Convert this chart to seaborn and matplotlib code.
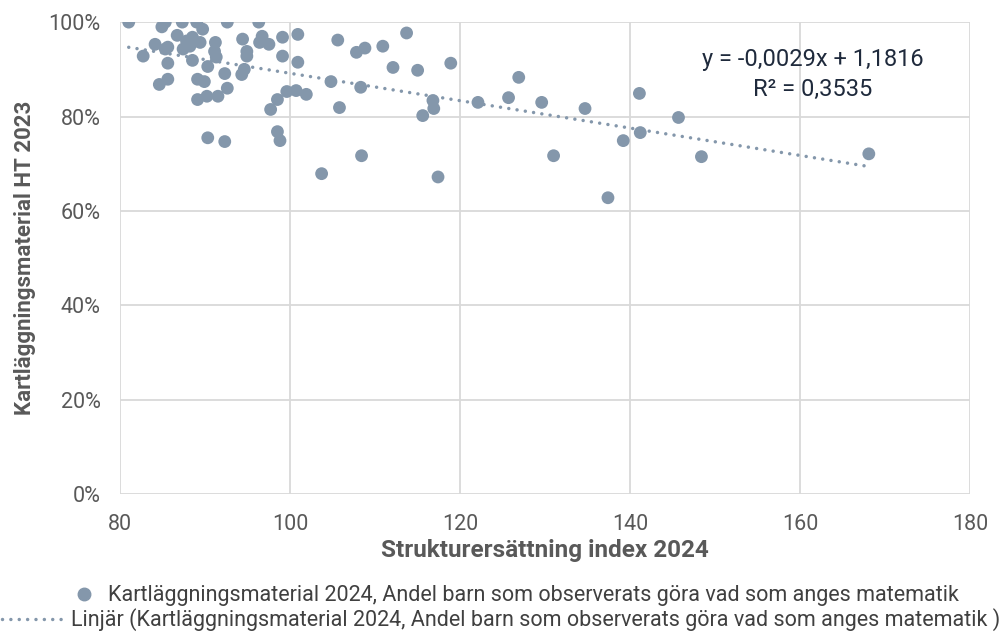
import numpy as np
import pandas as pd
import seaborn as sns
import matplotlib.pyplot as plt
from matplotlib.ticker import PercentFormatter
from matplotlib.lines import Line2D

# Strukturersättning index 2024
index_2024 = [
    81.0, 84.9, 85.3, 87.3, 89.0, 89.7, 92.6, 96.3, 86.7, 87.8,
    88.5, 89.4, 88.2, 84.1, 85.3, 85.6, 82.7, 87.4, 91.2, 91.1,
    91.3, 90.3, 88.5, 85.6, 92.3, 94.4, 94.9, 94.9, 94.6, 94.3,
    96.7, 96.4, 97.5, 99.1, 100.9, 99.1, 100.9, 85.6, 84.6, 89.1,
    89.9, 92.6, 89.1, 90.2, 91.5, 98.5, 99.6, 100.7, 101.9, 97.7,
    98.5, 98.8, 90.3, 92.3, 105.6, 107.8, 108.8, 110.9, 113.7, 112.1,
    115.0, 118.9, 104.8, 108.3, 105.8, 116.8, 116.9, 115.6, 122.1, 108.4,
    103.7, 117.4, 125.7, 126.9, 129.6, 134.7, 131.0, 137.4, 139.2, 141.1,
    141.2, 145.7, 148.4, 168.1,
]
# Kartläggningsmaterial HT 2023 (andel)
andel_2023 = [
    1.000, 0.990, 1.000, 1.000, 1.000, 0.985, 1.000, 1.000, 0.972, 0.960,
    0.968, 0.957, 0.949, 0.953, 0.943, 0.947, 0.928, 0.943, 0.957, 0.938,
    0.926, 0.906, 0.919, 0.913, 0.891, 0.964, 0.938, 0.928, 0.900, 0.889,
    0.970, 0.957, 0.953, 0.968, 0.974, 0.928, 0.915, 0.879, 0.868, 0.879,
    0.874, 0.860, 0.836, 0.843, 0.843, 0.836, 0.853, 0.855, 0.847, 0.815,
    0.768, 0.749, 0.755, 0.747, 0.962, 0.936, 0.945, 0.949, 0.977, 0.904,
    0.898, 0.913, 0.874, 0.862, 0.819, 0.834, 0.817, 0.802, 0.830, 0.717,
    0.679, 0.672, 0.840, 0.883, 0.830, 0.817, 0.717, 0.628, 0.749, 0.849,
    0.766, 0.798, 0.715, 0.721,
]

# trendline as given in the chart
slope = -0.0029
intercept = 1.1816
r2 = 0.3535

x_ticks = [80, 100, 120, 140, 160, 180]
y_ticks = [0, 0.2, 0.4, 0.6, 0.8, 1.0]

series_label = "Kartläggningsmaterial 2024, Andel barn som observerats göra vad som anges matematik"
trend_label = "Linjär (Kartläggningsmaterial 2024, Andel barn som observerats göra vad som anges matematik )"

point_color = "#8497AB"
grid_color = "#D9D9D9"
text_color = "#595959"
dots = (0, (0.01, 2.4))

df = pd.DataFrame({"index": index_2024, "andel": andel_2023})

sns.set_theme(style="white")
plt.rcParams["font.family"] = ["Roboto", "DejaVu Sans"]

fig = plt.figure(figsize=(10.02, 6.32), dpi=100)
ax = fig.add_axes([0.12, 0.218, 0.848, 0.747])

sns.scatterplot(data=df, x="index", y="andel", ax=ax, color=point_color,
                s=85, edgecolor="none", zorder=3, legend=False)

xs = np.array([df["index"].min(), df["index"].max()])
ax.plot(xs, slope * xs + intercept, color=point_color, lw=2.5,
        linestyle=dots, dash_capstyle="round", zorder=2)

ax.set_xlim(80, 180)
ax.set_ylim(0, 1.0)
ax.set_xticks(x_ticks)
ax.set_yticks(y_ticks)
ax.yaxis.set_major_formatter(PercentFormatter(1.0, decimals=0))
ax.grid(True, color=grid_color, lw=1.3)
ax.set_axisbelow(True)
for sp in ax.spines.values():
    sp.set_visible(False)
ax.tick_params(axis="both", length=0, labelsize=15.5, labelcolor=text_color)
ax.tick_params(axis="y", pad=14)
ax.tick_params(axis="x", pad=14)

ax.set_xlabel("Strukturersättning index 2024", fontsize=17.5, fontweight="bold",
              color=text_color, labelpad=3)
ax.set_ylabel("Kartläggningsmaterial HT 2023", fontsize=16, fontweight="bold",
              color=text_color, labelpad=9)

ax.text(161.5, 0.921, "y = -0,0029x + 1,1816", ha="center", va="center",
        fontsize=17, color="#1F2A3C")
ax.text(161.5, 0.857, "R² = 0,3535", ha="center", va="center",
        fontsize=17, color="#1F2A3C")

h1 = Line2D([], [], marker="o", ls="none", color=point_color, markersize=9)
h2 = Line2D([], [], color=point_color, lw=2.5, linestyle=dots,
            dash_capstyle="round")
fig.legend([h1], [series_label], loc="center", bbox_to_anchor=(0.515, 0.057),
           frameon=False, fontsize=15.5, handlelength=1.0, handletextpad=0.6,
           labelcolor="#404040", borderpad=0)
fig.legend([h2], [trend_label], loc="center", bbox_to_anchor=(0.5, 0.019),
           frameon=False, fontsize=15.5, handlelength=3.0, handletextpad=0.2,
           labelcolor="#404040", borderpad=0)

fig.savefig("out.png", dpi=100)
plt.close(fig)
